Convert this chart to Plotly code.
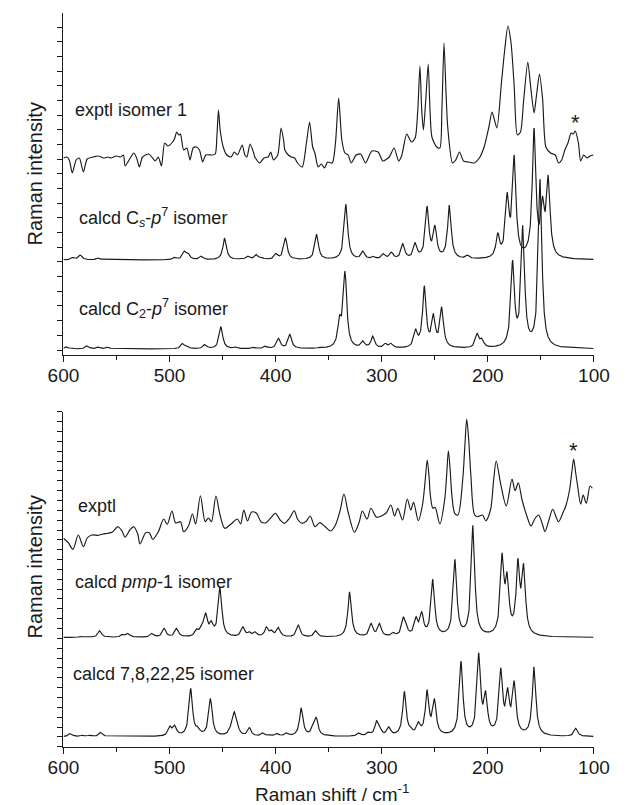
import numpy as np
import plotly.graph_objects as go

# ---------------------------------------------------------------
# Raman spectra (shift in cm-1, intensity in arbitrary units)
# ---------------------------------------------------------------
X_TICKS = [600, 500, 400, 300, 200, 100]

# Panel 1 -- experimental spectrum of isomer 1
exp1_shift = [600, 597, 594.5, 591.7, 588, 585, 581.2, 577.6, 572, 567.2, 562, 558, 555.3, 550, 546,
              543.4, 541.9, 537, 533.8, 531, 528.4, 525.5, 519.5, 516, 513.5, 510.6, 507.6, 504.6,
              501.6, 497.1, 495, 493.3, 491.2, 489.7, 486.7, 483.7, 480.7, 477.8, 474.8, 471.8, 468.8,
              465.8, 459.9, 456.9, 455.3, 453.9, 452.3, 449.4, 446, 442, 439, 436, 431.5, 429, 427.1,
              424.1, 421, 419.6, 415.1, 411, 407, 404.7, 402, 398, 394.9, 392.5, 391.3, 388, 385.3,
              382, 379.4, 374.9, 371, 368, 365.1, 363, 360, 357, 354, 351, 346.6, 343.6, 340.6, 337.6,
              334.7, 331.7, 328.7, 324.2, 319.8, 315.3, 309.3, 303.4, 298.9, 292.9, 288.4, 284, 281,
              276.5, 272, 268.5, 266, 264, 262.3, 260.7, 258.5, 256.2, 254.5, 252.7, 248.2, 245.2,
              243.3, 241.3, 239.5, 237.8, 233.3, 230.3, 226.7, 222.9, 218.4, 213, 208, 203.5, 199,
              196, 191.5, 187.1, 184.1, 181.1, 178.1, 175.1, 172.2, 169.2, 166.2, 162.3, 159.3, 156.4,
              154.3, 151.3, 148.3, 145.3, 140.9, 136.4, 133.4, 130.4, 127.4, 124.5, 121.5, 119.5,
              117.6, 114.6, 112.5, 109.6, 106.6, 103.6, 100.6]
exp1_int = [2, 3, 0, -13, 0, 2, -12, 1, 3, 4, 2, 3, 2, 4, 3,
            5, -6, 2, 7, 2, -7, 3, 6, 2, -1, 3, -6, 17,
            14, 18, 22, 28, 25, 26, 10, 12, 0, 12, 13, 10, -2,
            5, 5, 6, 25, 50, 30, 13, 5, 3, 8, 5, 15, 5, 3,
            16, 8, 3, -3, 2, 3, 8, 0, 5, 32, 20, 10, 5, 3,
            2, -3, -7, 17, 38, 13, 7, -7, -4, -8, -2, -3, 17, 62, 20,
            7, 5, -3, 5, 6, -3, 9, 8, -1, 3, 12, -1, 5,
            26, 18, 22, 50, 94, 50, 30, 60, 96, 50, 23, 13, 12,
            50, 117, 70, 33, -3, 0, 8, -1, -2, -3, 2, 13, 33,
            48, 32, 78, 110, 134, 117, 73, 25, 28, 60, 98, 70, 47,
            63, 86, 60, 13, 7, 5, -3, 0, 10, 17, 27,
            26, 29, 17, -1, 5, 2, 4, 5]

# Panel 1 -- calculated band tables (position, peak height)
cs_pos = [591, 584, 567, 495, 486, 482.5, 470, 448, 431.8, 425.6, 418, 412, 399.6, 390.7, 361.3,
          333.7, 317.6, 307.8, 298.3, 290.8, 280, 268.4, 257.2, 249.8, 236.2, 219, 190.6, 181.7,
          175.1, 156.4, 148.3, 143]
cs_int = [2.7, 5, 2.3, 3, 9, 7, 4, 22, 2, 4, 5.5, 2, 6.7, 22, 25.7,
          55.7, 9, 4, 6.7, 8, 16.7, 17.7, 54, 35, 55, 5, 27, 68,
          105, 132, 64, 85]

c2_pos = [597, 577.6, 567, 558, 487.6, 483.5, 466.6, 451.5, 438, 420.6, 409.5, 397.3, 386.5, 358.5,
          339.7, 334.6, 317.6, 308.4, 296.5, 291, 268, 259.8, 251.2, 243.4, 210, 205.5, 176.6,
          167, 150.7]
c2_int = [2.3, 3.3, 2, 2, 5.7, 3, 4.7, 22.3, 2, 2, 3, 10.7, 14.7, 1.7,
          34, 78, 8.3, 13, 5.7, 6, 20, 63, 35.7, 42.3, 15.7, 11, 89,
          124, 170]

# Panel 2 -- experimental spectrum
exp2_shift = [600, 595.5, 591, 586, 581.2, 577.6, 573.2, 567.2, 562.7, 558.3, 553.8, 548.7, 544.8,
              541.9, 537.4, 533.8, 530, 527.8, 522.5, 518.9, 515.9, 510.6, 505.5, 502.2, 497.7,
              494.2, 489.7, 486.7, 482.2, 478.4, 475.4, 470.9, 466.4, 463.4, 460.5, 456.3, 452.4,
              447.9, 442, 436, 433, 430, 426.5, 422.6, 418.1, 413.6, 409.2, 404.7, 400.2, 395.8,
              391.9, 386.8, 382.4, 379.4, 374.9, 371, 367.4, 362.9, 358.5, 354, 348.1, 343.6, 339.1,
              335.6, 331.7, 325.7, 321.2, 318.3, 313.8, 310.2, 304.8, 300.4, 295.9, 291.4, 287.9,
              284.9, 280.4, 275.9, 272.6, 270, 265.5, 261.6, 259, 257.1, 255.3, 254.2, 251.8, 249.7,
              245.2, 240.7, 238.8, 237.2, 235.5, 233.9, 231.2, 228.2, 223.7, 221.6, 219.9, 218,
              216, 212.4, 209.4, 205, 202, 197.5, 194.5, 192.1, 188, 182.6, 177.2, 174.3, 171.3,
              167.7, 163.2, 159.3, 155.8, 152.2, 148.3, 146.2, 142.4, 138.8, 133.4, 128.9, 126.5,
              123, 120.8, 119.1, 117.3, 115.5, 112.5, 110.1, 107.2, 103.6, 101.5]
exp2_int = [1.7, -2.7, -9.3, 5, -6.7, 2, 5, 4.7, 6, 6.7, 8, 13.3, 9,
            2.7, 10, 13.3, 6, -4, 7.3, 7, 0.7, 8.3, 21, 15.7, 29,
            17, 18.3, 8.3, 14, 26, 16, 44.3, 18.3, 22, 18.3, 44, 25,
            11.7, 16, 21, 16, 30, 19, 28, 26.7, 18, 17.3, 22, 26.7, 20,
            16.7, 22, 29.3, 21, 16.7, 19, 24, 13.3, 17.3, 14, 9, 15, 30,
            46, 28, 7.7, 18, 29, 21, 31.7, 22.7, 24, 27, 35, 24,
            31.7, 20, 41, 30, 37.7, 19.3, 35, 60, 80, 62, 45, 31.7, 32.7,
            16, 40, 65, 89.3, 70, 45, 26.7, 25, 60, 95, 120.7, 100,
            65, 25, 23.3, 25, 19.3, 30, 60, 79, 56.7, 34, 61, 49.3, 57.3,
            40, 24, 14, 21, 25, 15, 8.3, 20, 30.7, 18.3, 28, 34,
            50, 68, 81, 68, 55, 36, 45, 36.7, 54, 51.7]

# Panel 2 -- calculated band tables
pmp_pos = [584, 577, 565.7, 544, 539, 516.5, 505, 493.3, 487.2, 474.2, 469.4, 465.8, 460.5, 452.4,
           430.7, 424.8, 419.2, 408.6, 403.8, 397.3, 378.5, 362, 330.2, 309.9, 302, 289.1, 279.5,
           277, 267.6, 262.3, 251.8, 230.9, 214, 186.5, 181.7, 171.6, 166.2, 123.5]
pmp_int = [1, 1, 6.8, 3.5, 4.2, 4.2, 9.2, 9.2, 1.5, 9, 14, 24.8, 16.8, 50.8,
           10.8, 5.8, 5.8, 10.8, 7.5, 10.2, 12.5, 7, 45.8, 14.2, 14.2, 5.2, 20.8,
           14, 20.8, 25.8, 58.5, 78.2, 112.5, 84.8, 65.8, 79.2, 74.2, 1]

iso_pos = [593.5, 582, 574.8, 564.8, 499.5, 495, 480, 473.3, 461.4, 442.6, 439, 436.3, 424.7, 411.8,
           404, 398.5, 389.6, 375.8, 364.5, 361.6, 350, 321.3, 312.3, 304.8, 302, 293.2, 278.6,
           272.7, 265.3, 257.2, 250.3, 225.2, 208.5, 202, 187.7, 181.2, 175.1, 156.4, 138, 117]
iso_int = [3.4, 1.7, 1.7, 4.4, 10.7, 11.7, 48.4, 10.7, 38.4, 10.7, 25, 15, 9, 4,
           1.7, 3.4, 4, 29, 14, 19.4, 1.7, 4, 5, 16, 11, 10, 45,
           10, 15, 46.7, 37.7, 75.7, 84, 46, 69, 49.4, 56, 70, 0.7, 8.4]

# vertical stacking of the spectra within each panel
OFFSETS_TOP = {"exp": 195.0, "cs": 95.0, "c2": 6.0}
OFFSETS_BOT = {"exp": 206.7, "pmp": 109.2, "iso": 10.0}
BAND_FWHM = 4.0


def band_spectrum(grid, pos, heights, fwhm):
    """Lorentzian-broadened band spectrum whose maxima reach the given heights."""
    pos = np.asarray(pos, float)
    h = np.asarray(heights, float)
    g = fwhm / 2.0
    K = 1.0 / (1.0 + ((pos[:, None] - pos[None, :]) / g) ** 2)
    s = h.copy()
    for _ in range(400):
        s = np.clip(s + 0.5 * (h - K @ s), 0.0, None)
    prof = 1.0 / (1.0 + ((grid[:, None] - pos[None, :]) / g) ** 2)
    return prof @ s


grid = np.arange(100.5, 600.01, 0.2)

FONT = "Liberation Sans, Arial, Helvetica, sans-serif"
INK = "#1a1a1a"
LINE = dict(color=INK, width=1.15)

fig = go.Figure()

# ---- top panel ----
fig.add_trace(go.Scatter(x=exp1_shift, y=np.array(exp1_int) + OFFSETS_TOP["exp"], mode="lines",
                         line=dict(shape="spline", smoothing=0.65, **LINE), xaxis="x", yaxis="y",
                         showlegend=False, hoverinfo="skip"))
fig.add_trace(go.Scatter(x=grid, y=band_spectrum(grid, cs_pos, cs_int, BAND_FWHM) + OFFSETS_TOP["cs"],
                         mode="lines", line=LINE, xaxis="x", yaxis="y", showlegend=False, hoverinfo="skip"))
fig.add_trace(go.Scatter(x=grid, y=band_spectrum(grid, c2_pos, c2_int, BAND_FWHM) + OFFSETS_TOP["c2"],
                         mode="lines", line=LINE, xaxis="x", yaxis="y", showlegend=False, hoverinfo="skip"))

# ---- bottom panel ----
fig.add_trace(go.Scatter(x=exp2_shift, y=np.array(exp2_int) + OFFSETS_BOT["exp"], mode="lines",
                         line=dict(shape="spline", smoothing=0.85, **LINE), xaxis="x2", yaxis="y2",
                         showlegend=False, hoverinfo="skip"))
fig.add_trace(go.Scatter(x=grid, y=band_spectrum(grid, pmp_pos, pmp_int, BAND_FWHM) + OFFSETS_BOT["pmp"],
                         mode="lines", line=LINE, xaxis="x2", yaxis="y2", showlegend=False, hoverinfo="skip"))
fig.add_trace(go.Scatter(x=grid, y=band_spectrum(grid, iso_pos, iso_int, BAND_FWHM) + OFFSETS_BOT["iso"],
                         mode="lines", line=LINE, xaxis="x2", yaxis="y2", showlegend=False, hoverinfo="skip"))

W, H = 627, 805
x_dom = [50 / W, 609 / W]

xaxis_common = dict(
    range=[600, 100], tickmode="array", tickvals=X_TICKS, ticktext=[str(v) for v in X_TICKS],
    ticks="outside", ticklen=6, tickwidth=1.2, tickcolor=INK, ticklabelstandoff=-3,
    minor=dict(tickmode="linear", tick0=50, dtick=50, ticks="outside", ticklen=4, tickwidth=1.2, tickcolor=INK),
    showline=True, linecolor=INK, linewidth=1.3, showgrid=False, zeroline=False,
    tickfont=dict(family=FONT, size=19, color=INK), domain=x_dom,
)

fig.update_layout(
    width=W, height=H, margin=dict(l=0, r=0, t=0, b=0),
    paper_bgcolor="white", plot_bgcolor="white",
    xaxis=dict(anchor="y", **xaxis_common),
    xaxis2=dict(anchor="y2", **xaxis_common),
    yaxis=dict(anchor="x", domain=[1 - 355 / H, 1 - 12.7 / H], range=[0, 342.3],
               tickmode="linear", tick0=5, dtick=14.67, ticks="outside", ticklen=5, tickwidth=1.2,
               tickcolor=INK, showticklabels=False, showline=True, linecolor=INK, linewidth=1.3,
               showgrid=False, zeroline=False),
    yaxis2=dict(anchor="x2", domain=[1 - 746.7 / H, 1 - 411.7 / H], range=[0, 335],
                tickmode="linear", tick0=0, dtick=9.85, ticks="outside", ticklen=5, tickwidth=1.2,
                tickcolor=INK, showticklabels=False, showline=True, linecolor=INK, linewidth=1.3,
                showgrid=False, zeroline=False),
    font=dict(family=FONT, color=INK),
)


def label(text, x, y, ax="x", ay="y", size=18):
    fig.add_annotation(text=text, x=x, y=y, xref=ax, yref=ay, xanchor="left", yanchor="middle",
                       showarrow=False, font=dict(family=FONT, size=size, color=INK))


label("exptl isomer 1", 591, 245)
label("calcd C<sub><i>s</i></sub>-<i>p</i><sup>7</sup> isomer", 587.5, 138)
label("calcd C<sub>2</sub>-<i>p</i><sup>7</sup> isomer", 587.5, 47)
label("exptl", 588, 240.7, "x2", "y2")
label("calcd <i>pmp</i>-1 isomer", 591, 164.7, "x2", "y2")
label("calcd 7,8,22,25 isomer", 593, 72.7, "x2", "y2")

# asterisks marking the band at ~118 cm-1
for ax, ay, xv, yv in [("x", "y", 117.6, 233), ("x2", "y2", 119.4, 296.7)]:
    fig.add_annotation(text="*", x=xv, y=yv, xref=ax, yref=ay, xanchor="center", yanchor="middle",
                       showarrow=False, font=dict(family=FONT, size=22, color=INK))

# axis titles
for yc in (173.5, 566.5):
    fig.add_annotation(text="Raman intensity", x=20 / W, y=1 - yc / H, xref="paper", yref="paper",
                       xanchor="center", yanchor="middle", textangle=-90, showarrow=False,
                       font=dict(family=FONT, size=20, color=INK))
fig.add_annotation(text="Raman shift / cm<sup>-1</sup>", x=333 / W, y=1 - 793 / H, xref="paper",
                   yref="paper", xanchor="center", yanchor="middle", showarrow=False,
                   font=dict(family=FONT, size=19, color=INK))

fig.write_html("out.html")
